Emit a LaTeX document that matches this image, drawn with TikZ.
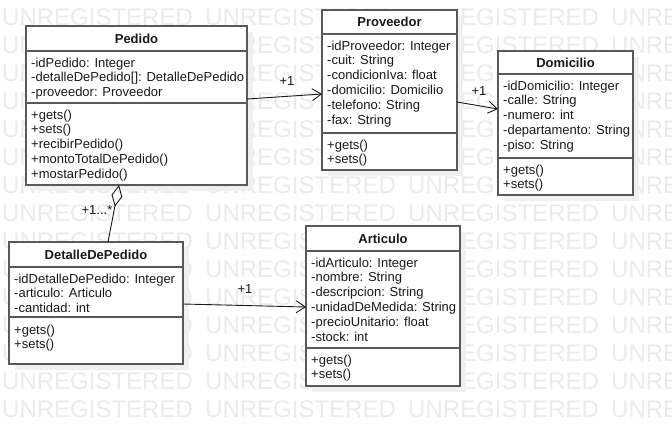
\documentclass[tikz,border=0pt]{standalone}
\usepackage{fontspec}
\setmainfont{Liberation Sans}
\usetikzlibrary{arrows.meta}
\tikzset{
  wmark/.style={font=\fontsize{24pt}{26pt}\selectfont, text=black!8, inner sep=0pt, anchor=west},
  shadowfill/.style={fill=black!6},
  classbox/.style={draw=black!65, line width=1.2pt, fill=white, rectangle, inner sep=0pt, outer sep=0pt},
  boxline/.style={draw=black!65, line width=1.2pt},
  titletext/.style={font=\bfseries\fontsize{13pt}{15pt}\selectfont, text=black!90, inner sep=0pt},
  membertext/.style={font=\fontsize{13pt}{14.8pt}\selectfont, text=black!90, inner sep=0pt, align=left, anchor=north west},
  lbl/.style={font=\fontsize{13pt}{15pt}\selectfont, text=black!90, inner sep=0pt},
  assoc/.style={draw=black!90, line width=0.9pt, -{Straight Barb[length=9pt,width=12pt,line width=0.9pt]}},
  aggr/.style={draw=black!90, line width=0.9pt, {Diamond[open,length=22pt,width=11pt,line width=0.9pt]}-}
}
% #1 name, #2 x1, #3 y1, #4 x2, #5 y2, #6 sep1, #7 sep2, #8 title, #9 attrs
\newcommand{\umlclass}[9]{%
  \fill[shadowfill] (#2+6,#3+6) rectangle (#4+6,#5+6);
  \node[classbox, minimum width={#4-#2}, minimum height={#5-#3}, anchor=north west] (#1) at (#2,#3) {};
  \draw[boxline] (#2,#6) -- (#4,#6);
  \draw[boxline] (#2,#7) -- (#4,#7);
  \node[titletext] (#1-title) at ({(#2+#4)/2},{(#3+#6)/2}) {#8};
  \node[membertext] (#1-attrs) at (#2+5,#6+6.5) {#9};
}
\newcommand{\umlmethods}[3]{% name, x, y
  \node[membertext] (#1-methods) at (#2+5,#3+6.5) {+gets()\\+sets()};
}
\begin{document}
\begin{tikzpicture}[x=1pt,y=-1pt]
\useasboundingbox (0,0) rectangle (672,426);
\clip (0,0) rectangle (672,426);
\fill[white] (0,0) rectangle (672,426);
% watermark
\foreach \r in {0,...,14}{
  \foreach \c in {0,...,3}{
    \node[wmark] (wm-\r-\c) at (2+203*\c,17+28*\r) {UNREGISTERED};
  }
}
% classes
\umlclass{ped}{26}{26}{247}{185}{51}{103}{Pedido}{-idPedido: Integer\\-detalleDePedido[]: DetalleDePedido\\-proveedor: Proveedor}
\node[membertext] (ped-methods) at (31,109.5) {+gets()\\+sets()\\+recibirPedido()\\+montoTotalDePedido()\\+mostarPedido()};

\umlclass{prov}{322}{10}{457}{170}{34}{133}{Proveedor}{-idProveedor: Integer\\-cuit: String\\-condicionIva: float\\-domicilio: Domicilio\\-telefono: String\\-fax: String}
\umlmethods{prov}{322}{133}

\umlclass{dom}{498}{51}{633}{195}{74}{158}{Domicilio}{-idDomicilio: Integer\\-calle: String\\-numero: int\\-departamento: String\\-piso: String}
\umlmethods{dom}{498}{158}

\umlclass{det}{9}{242}{183}{364}{267}{317}{DetalleDePedido}{-idDetalleDePedido: Integer\\-articulo: Articulo\\-cantidad: int}
\umlmethods{det}{9}{318}

\umlclass{art}{306}{226}{460}{386}{251}{348}{Articulo}{-idArticulo: Integer\\-nombre: String\\-descripcion: String\\-unidadDeMedida: String\\-precioUnitario: float\\-stock: int}
\umlmethods{art}{306}{348}

% connectors
\draw[assoc] ([yshift=6.5pt]ped.east) -- ([yshift=-4pt]prov.west);
\node[lbl] (l1) at (287,81) {+1};
\draw[assoc] ([yshift=-12pt]prov.east) -- ([yshift=14pt]dom.west);
\node[lbl] (l2) at (479,91) {+1};
\draw[aggr] ([xshift=-17.5pt]ped.south) -- ([xshift=12pt]det.north);
\node[lbl] (l3) at (97,210) {+1...*};
\draw[assoc] ([yshift=-1pt]det.east) -- ([yshift=-1pt]art.west);
\node[lbl] (l4) at (245,289) {+1};
\end{tikzpicture}
\end{document}
